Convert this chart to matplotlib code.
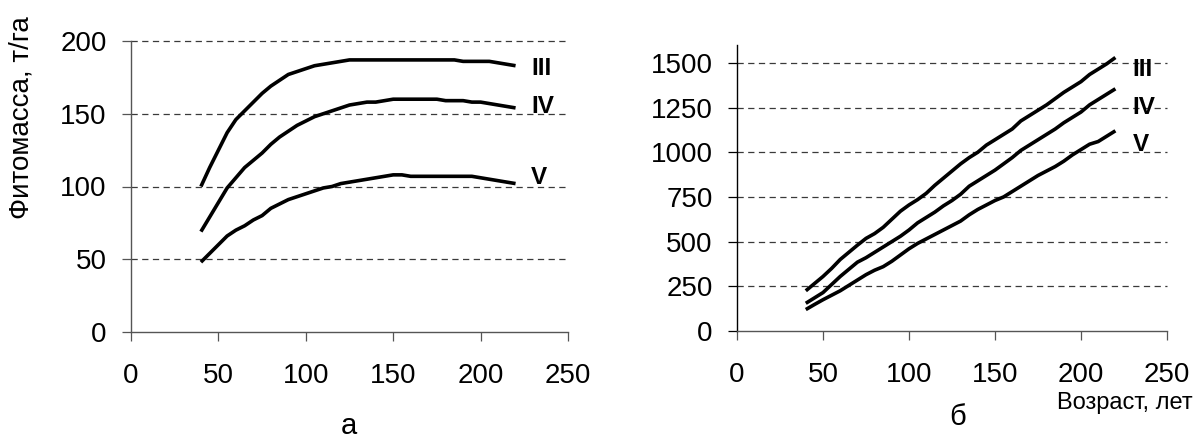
import matplotlib
matplotlib.use("Agg")
import matplotlib.pyplot as plt

plt.rcParams['font.family'] = ['Liberation Sans', 'DejaVu Sans']
plt.rcParams['lines.scale_dashes'] = False

# Age, years
age = list(range(40, 225, 5))

# Phytomass, t/ha (panel а)
phyto_III = [100, 113, 125, 137, 146, 152, 158, 164, 169, 173, 177, 179, 181, 183,
             184, 185, 186, 187, 187, 187, 187, 187, 187, 187, 187, 187, 187, 187,
             187, 187, 186, 186, 186, 186, 185, 184, 183]
phyto_IV = [69, 79, 89, 99, 106, 113, 118, 123, 129, 134, 138, 142, 145, 148,
            150, 152, 154, 156, 157, 158, 158, 159, 160, 160, 160, 160, 160, 160,
            159, 159, 159, 158, 158, 157, 156, 155, 154]
phyto_V = [48, 54, 60, 66, 70, 73, 77, 80, 85, 88, 91, 93, 95, 97,
           99, 100, 102, 103, 104, 105, 106, 107, 108, 108, 107, 107, 107, 107,
           107, 107, 107, 107, 106, 105, 104, 103, 102]

# Cumulative values (panel б)
cum_III = [225, 265, 305, 350, 400, 440, 480, 518, 545, 580, 625, 670, 705, 735,
           770, 815, 855, 895, 935, 970, 1000, 1040, 1070, 1100, 1130, 1175, 1205,
           1235, 1265, 1300, 1335, 1365, 1395, 1435, 1465, 1495, 1530]
cum_IV = [155, 185, 215, 260, 305, 345, 385, 410, 440, 470, 500, 530, 565, 605,
          635, 665, 700, 730, 765, 810, 840, 870, 900, 935, 970, 1010, 1040,
          1070, 1100, 1130, 1165, 1195, 1225, 1265, 1295, 1325, 1355]
cum_V = [120, 148, 175, 200, 225, 255, 285, 315, 340, 360, 390, 425, 460, 490,
         515, 540, 565, 590, 615, 650, 680, 705, 730, 750, 780, 810, 840, 870,
         895, 920, 950, 985, 1015, 1045, 1060, 1090, 1120]

classes = ['III', 'IV', 'V']
left_label_y = [181, 155, 106]
right_label_y = [1463, 1248, 1043]

W, H = 1197, 443
fig = plt.figure(figsize=(W / 100, H / 100), dpi=100)


def px_axes(x0, y_top, x1, y_bot):
    return fig.add_axes([x0 / W, 1 - y_bot / H, (x1 - x0) / W, (y_bot - y_top) / H])


def style(ax, yticks, ymax, lcolor, bcolor):
    ax.set_xlim(0, 250)
    ax.set_ylim(0, ymax)
    ax.set_xticks([0, 50, 100, 150, 200, 250])
    ax.set_yticks(yticks)
    for s in ('top', 'right'):
        ax.spines[s].set_visible(False)
    ax.spines['left'].set_color(lcolor)
    ax.spines['bottom'].set_color(bcolor)
    ax.spines['left'].set_linewidth(1.0)
    ax.spines['bottom'].set_linewidth(1.0)
    ax.tick_params(axis='y', length=6.5, width=0.9, color=lcolor, pad=11,
                   labelsize=20)
    ax.tick_params(axis='x', length=6.5, width=0.9, color=bcolor, pad=16,
                   labelsize=20)
    for v in yticks:
        if v == 0:
            continue
        ax.axhline(v, color='#3a3a3a', lw=0.9, dashes=(4.5, 3.2), zorder=1,
                   clip_on=False)


# Panel а
ax1 = px_axes(131, 41, 568, 332)
style(ax1, [0, 50, 100, 150, 200], 200, '#555555', '#555555')
for series in (phyto_III, phyto_IV, phyto_V):
    ax1.plot(age, series, color='black', lw=2.6, solid_capstyle='butt', zorder=3)
for name, yv in zip(classes, left_label_y):
    ax1.text(229, yv, name, fontsize=17.5, fontweight='bold', ha='left',
             va='center', zorder=4)

# Panel б
ax2 = px_axes(737, 45, 1167, 331)
style(ax2, [0, 250, 500, 750, 1000, 1250, 1500], 1600, 'black', '#555555')
for series in (cum_III, cum_IV, cum_V):
    ax2.plot(age, series, color='black', lw=2.6, solid_capstyle='butt', zorder=3)
for name, yv in zip(classes, right_label_y):
    ax2.text(230, yv, name, fontsize=17.5, fontweight='bold', ha='left',
             va='center', zorder=4)

fig.text(22 / W, 1 - 118 / H, 'Фитомасса, т/га', rotation=90, fontsize=20,
         ha='center', va='center')
fig.text(349 / W, 1 - 426 / H, 'а', fontsize=21, ha='center', va='center')
fig.text(958 / W, 1 - 417 / H, 'б', fontsize=21, ha='center', va='center')
fig.text(1193 / W, 1 - 403 / H, 'Возраст, лет', fontsize=17, ha='right',
         va='center')

fig.savefig('out.png', dpi=100)
